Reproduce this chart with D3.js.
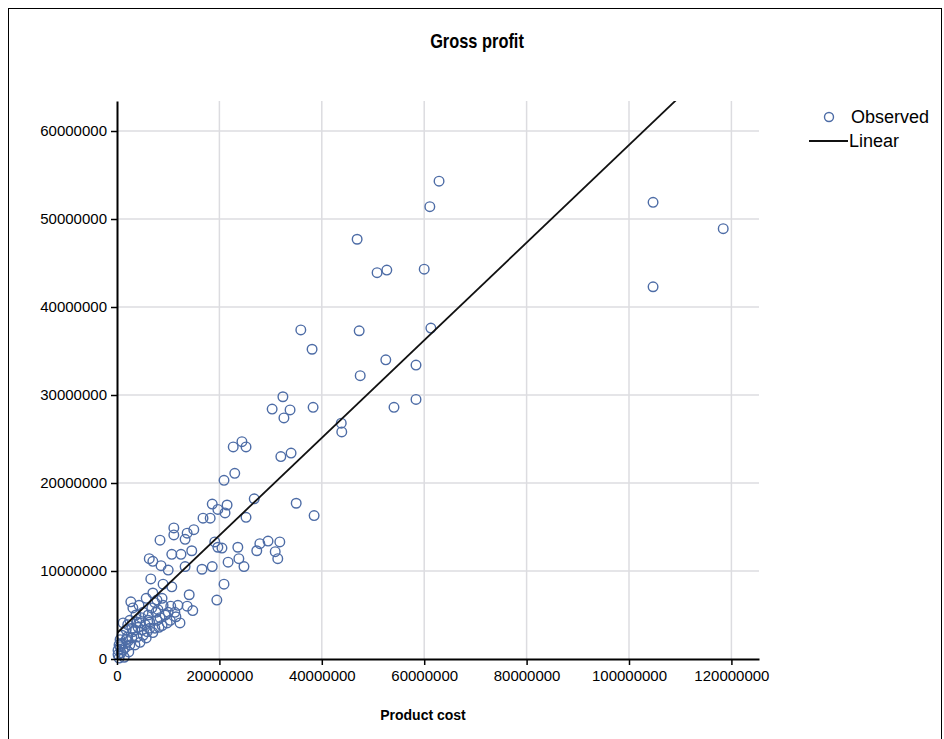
<!DOCTYPE html>
<html>
<head>
<meta charset="utf-8">
<script src="https://cdn.jsdelivr.net/npm/d3@7"></script>
<style>
  body { margin: 0; background: #fff; }
  svg text { font-family: "Liberation Sans", Arial, sans-serif; }
</style>
</head>
<body>
<svg id="chart" width="944" height="739"></svg>
<script>
// product cost (millions) of each observed case
var cost = [
  118.4, 104.7, 104.7, 62.9, 61.1, 46.9, 50.8, 52.7, 60.0, 35.9, 47.3, 61.3, 38.1, 52.5, 58.4, 47.5,
  32.4, 33.8, 32.6, 30.3, 38.3, 54.1, 58.4, 43.8, 43.9, 22.7, 24.4, 25.2, 32.0, 34.0, 20.9, 23.0,
  18.6, 21.5, 26.8, 35.0, 19.7, 21.1, 25.2, 16.8, 18.2, 38.5, 11.1, 15.0, 13.7, 11.1, 13.3, 8.4,
  19.1, 19.7, 20.5, 14.6, 10.7, 12.5, 29.5, 31.8, 27.9, 27.3, 30.9, 31.4, 23.6, 23.8, 21.7, 24.8,
  6.3, 7.0, 8.6, 10.0, 13.3, 16.6, 18.6, 6.6, 9.0, 10.7, 20.9, 19.5, 14.1, 13.7, 14.8,
  7.0, 8.8, 7.4, 2.7, 4.3, 3.1, 5.1, 6.1, 4.5, 8.0, 10.0, 10.4, 11.5, 12.3, 8.2, 9.8,
  2.5, 1.2, 3.1, 2.0, 0.6, 3.9, 5.1, 6.4, 2.5, 1.2, 0.2, 1.0, 4.5, 7.0,
  0.4, 0.8, 1.6, 2.1, 2.9, 3.5, 4.1, 5.5, 6.1, 6.8, 7.6, 8.4, 9.0, 1.8, 0.6, 1.4,
  2.3, 3.5, 4.9, 5.7, 6.4, 7.8, 8.8, 9.4, 10.5, 11.3, 11.9, 3.7, 2.1, 0.2, 1.0, 4.7,
  7.8, 5.7, 3.9, 2.9, 7.4, 5.9, 1.8, 0.4
];
// gross profit (millions), same order
var profit = [
  48.9, 51.9, 42.3, 54.3, 51.4, 47.7, 43.9, 44.2, 44.3, 37.4, 37.3, 37.6, 35.2, 34.0, 33.4, 32.2,
  29.8, 28.3, 27.4, 28.4, 28.6, 28.6, 29.5, 26.8, 25.8, 24.1, 24.7, 24.1, 23.0, 23.4, 20.3, 21.1,
  17.6, 17.5, 18.2, 17.7, 17.0, 16.6, 16.1, 16.0, 16.0, 16.3, 14.9, 14.7, 14.3, 14.1, 13.6, 13.5,
  13.3, 12.7, 12.6, 12.3, 11.9, 11.9, 13.4, 13.3, 13.1, 12.3, 12.2, 11.4, 12.7, 11.4, 11.0, 10.5,
  11.4, 11.1, 10.6, 10.1, 10.5, 10.2, 10.5, 9.1, 8.5, 8.2, 8.5, 6.7, 7.3, 6.0, 5.5,
  7.5, 6.9, 6.4, 6.5, 6.1, 5.8, 5.3, 4.4, 4.1, 5.6, 5.3, 4.4, 4.8, 4.1, 3.6, 4.1,
  4.4, 4.1, 3.1, 2.5, 2.2, 2.5, 2.7, 3.5, 1.6, 1.0, 0.5, 1.8, 1.9, 3.0,
  0.1, 0.7, 1.3, 2.0, 2.4, 3.3, 3.6, 3.9, 5.0, 5.8, 5.3, 4.7, 6.1, 3.3, 1.4, 0.2,
  0.8, 1.6, 3.3, 2.4, 4.2, 4.4, 3.8, 5.0, 6.0, 5.3, 6.1, 5.0, 3.9, 1.0, 2.7, 4.7,
  6.7, 6.9, 4.2, 3.5, 3.5, 3.1, 2.2, 1.6
];
// linear fit: intercept, slope
var fitCoef = [2950000, 0.5546];
var xTicks = [0, 20000000, 40000000, 60000000, 80000000, 100000000, 120000000];
var yTicks = [0, 10000000, 20000000, 30000000, 40000000, 50000000, 60000000];

var points = cost.map(function (c, i) {
  return { x: c * 1e6, y: profit[i] * 1e6 };
});

var svg = d3.select("#chart");

// outer frame
svg.append("rect")
  .attr("x", 8.5).attr("y", 8.5)
  .attr("width", 933).attr("height", 740)
  .attr("fill", "none").attr("stroke", "#000").attr("stroke-width", 1);

var pLeft = 117, pTop = 101, pRight = 759, pBottom = 659;

var x = d3.scaleLinear().domain([0, 125390000]).range([pLeft, pRight]);
var y = d3.scaleLinear().domain([0, 63410000]).range([pBottom, pTop]);

// grid
svg.append("g").selectAll("line")
  .data(xTicks.slice(1))
  .join("line")
  .attr("x1", d => x(d)).attr("x2", d => x(d))
  .attr("y1", pTop).attr("y2", pBottom)
  .attr("stroke", "#dcdce0").attr("stroke-width", 1.5);

svg.append("g").selectAll("line")
  .data(yTicks.slice(1))
  .join("line")
  .attr("x1", pLeft).attr("x2", pRight)
  .attr("y1", d => y(d)).attr("y2", d => y(d))
  .attr("stroke", "#dcdce0").attr("stroke-width", 1.5);

// clip for the fit line
svg.append("clipPath").attr("id", "plotClip")
  .append("rect")
  .attr("x", pLeft).attr("y", pTop)
  .attr("width", pRight - pLeft).attr("height", pBottom - pTop);

// points
svg.append("g").selectAll("circle")
  .data(points)
  .join("circle")
  .attr("cx", d => x(d.x))
  .attr("cy", d => y(d.y))
  .attr("r", 4.8)
  .attr("fill", "none")
  .attr("stroke", "#4d6ca6")
  .attr("stroke-width", 1.4);

// fit line
var xMax = d3.max(points, d => d.x);
svg.append("line")
  .attr("clip-path", "url(#plotClip)")
  .attr("x1", x(0)).attr("y1", y(fitCoef[0]))
  .attr("x2", x(xMax)).attr("y2", y(fitCoef[0] + fitCoef[1] * xMax))
  .attr("stroke", "#111").attr("stroke-width", 1.8);

// axes
var fmt = d3.format("d");
var xAxis = svg.append("g")
  .attr("transform", "translate(0," + pBottom + ")")
  .call(d3.axisBottom(x).tickValues(xTicks).tickFormat(fmt).tickSize(6).tickSizeOuter(0));
var yAxis = svg.append("g")
  .attr("transform", "translate(" + pLeft + ",0)")
  .call(d3.axisLeft(y).tickValues(yTicks).tickFormat(fmt).tickSize(6).tickSizeOuter(0));

[xAxis, yAxis].forEach(function (g) {
  g.select(".domain").attr("stroke", "#000").attr("stroke-width", 2);
  g.selectAll(".tick line").attr("stroke", "#000").attr("stroke-width", 1.5);
  g.selectAll(".tick text")
    .attr("fill", "#000")
    .style("font-size", "15px")
    .style("font-family", "'Liberation Sans', Arial, sans-serif");
});
xAxis.selectAll(".tick text").attr("dy", "0.85em");
yAxis.selectAll(".tick text").attr("dx", "-1px");

// titles
svg.append("text")
  .attr("transform", "translate(477,48) scale(0.82,1)")
  .attr("text-anchor", "middle")
  .style("font-size", "20px").style("font-weight", "bold")
  .text("Gross profit");

svg.append("text")
  .attr("x", 423).attr("y", 720)
  .attr("text-anchor", "middle")
  .style("font-size", "14px").style("font-weight", "bold")
  .text("Product cost");

// legend
var legend = svg.append("g");
legend.append("circle")
  .attr("cx", 829).attr("cy", 117).attr("r", 4.5)
  .attr("fill", "none").attr("stroke", "#4d6ca6").attr("stroke-width", 1.4);
legend.append("text")
  .attr("x", 851).attr("y", 123)
  .style("font-size", "18px")
  .text("Observed");
legend.append("line")
  .attr("x1", 809).attr("x2", 848)
  .attr("y1", 141).attr("y2", 141)
  .attr("stroke", "#111").attr("stroke-width", 1.8);
legend.append("text")
  .attr("x", 849).attr("y", 147)
  .style("font-size", "18px")
  .text("Linear");
</script>
</body>
</html>
